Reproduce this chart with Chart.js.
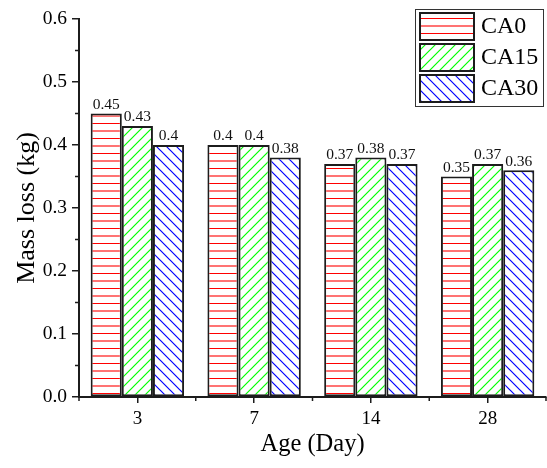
<!DOCTYPE html>
<html>
<head>
<meta charset="utf-8">
<script src="https://cdn.jsdelivr.net/npm/chart.js@4"></script>
<style>
  body { margin: 0; background: #fff; }
  #wrap { width: 547px; height: 468px; }
</style>
</head>
<body>
<div id="wrap"><canvas id="lossChart" width="547" height="468"></canvas></div>
<script>
const ages = ["3", "7", "14", "28"];
const ca0 = [0.45, 0.4, 0.37, 0.35];
const ca15 = [0.43, 0.4, 0.38, 0.37];
const ca30 = [0.4, 0.38, 0.37, 0.36];
const seriesNames = ["CA0", "CA15", "CA30"];
const yTicks = [0, 0.1, 0.2, 0.3, 0.4, 0.5, 0.6];

const serif = "'Liberation Serif', 'Times New Roman', serif";
const edge = "#1c1c1c";

function hatch(kind, color) {
    const c = document.createElement("canvas");
    const g = c.getContext("2d");
    if (kind === "h") {
        c.width = 10; c.height = 15;
        g.fillStyle = "#fff";
        g.fillRect(0, 0, 10, 15);
        g.fillStyle = color;
        g.fillRect(0, 3, 10, 1);
        g.globalAlpha = 0.55;
        g.fillRect(0, 10, 10, 2);
    } else {
        c.width = 10; c.height = 10;
        g.fillStyle = "#fff";
        g.fillRect(0, 0, 10, 10);
        g.strokeStyle = color;
        g.lineWidth = 1.2;
        g.beginPath();
        if (kind === "f") {
            g.moveTo(-5, 5); g.lineTo(5, -5);
            g.moveTo(0, 10); g.lineTo(10, 0);
            g.moveTo(5, 15); g.lineTo(15, 5);
        } else {
            g.moveTo(-5, 5); g.lineTo(5, 15);
            g.moveTo(0, 0); g.lineTo(10, 10);
            g.moveTo(5, -5); g.lineTo(15, 5);
        }
        g.stroke();
    }
    return document.getElementById("lossChart").getContext("2d").createPattern(c, "repeat");
}

const fills = [hatch("h", "rgb(255,0,0)"), hatch("f", "rgb(0,255,0)"), hatch("b", "rgb(0,0,255)")];

// value labels above each bar
const barLabels = {
    id: "barLabels",
    afterDatasetsDraw(chart) {
        const ctx = chart.ctx;
        ctx.save();
        ctx.font = "15.5px " + serif;
        ctx.fillStyle = "#111";
        ctx.textAlign = "center";
        ctx.textBaseline = "bottom";
        chart.data.datasets.forEach((ds, i) => {
            chart.getDatasetMeta(i).data.forEach((bar, j) => {
                ctx.fillText(String(ds.data[j]), bar.x, bar.y - 1);
            });
        });
        ctx.restore();
    }
};

// minor ticks (Origin style)
const minorTicks = {
    id: "minorTicks",
    afterDraw(chart) {
        const ctx = chart.ctx;
        const y = chart.scales.y;
        const a = chart.chartArea;
        ctx.save();
        ctx.strokeStyle = edge;
        ctx.lineWidth = 1.5;
        ctx.beginPath();
        for (let i = 0; i < yTicks.length - 1; i++) {
            const py = y.getPixelForValue((yTicks[i] + yTicks[i + 1]) / 2);
            ctx.moveTo(a.left, py); ctx.lineTo(a.left - 4, py);
        }
        const step = (a.right - a.left) / ages.length;
        for (let i = 0; i <= ages.length; i++) {
            const px = a.left + step * i;
            ctx.moveTo(px, a.bottom); ctx.lineTo(px, a.bottom + 4);
        }
        ctx.stroke();
        ctx.restore();
    }
};

const boxLegend = {
    id: "boxLegend",
    afterDraw(chart) {
        const ctx = chart.ctx;
        ctx.save();
        ctx.fillStyle = "#fff";
        ctx.fillRect(415, 9, 128, 97);
        ctx.strokeStyle = "#333";
        ctx.lineWidth = 1;
        ctx.strokeRect(415.5, 9.5, 128, 97);
        ctx.font = "24px " + serif;
        ctx.textBaseline = "middle";
        ctx.textAlign = "left";
        seriesNames.forEach((name, i) => {
            const top = 13 + i * 31;
            ctx.fillStyle = fills[i];
            ctx.fillRect(420, top, 54, 27);
            ctx.strokeStyle = edge;
            ctx.lineWidth = 2;
            ctx.strokeRect(420, top, 54, 27);
            ctx.fillStyle = "#000";
            ctx.fillText(name, 481, top + 14);
        });
        ctx.restore();
    }
};

const values = [ca0, ca15, ca30];

new Chart(document.getElementById("lossChart"), {
    type: "bar",
    data: {
        labels: ages,
        datasets: seriesNames.map((name, i) => ({
            label: name,
            data: values[i],
            backgroundColor: fills[i],
            borderColor: edge,
            borderWidth: 2,
            borderSkipped: false,
            categoryPercentage: 0.8,
            barPercentage: 1.0
        }))
    },
    options: {
        responsive: false,
        animation: false,
        layout: { padding: { top: 19, right: 1, left: 0, bottom: 0 } },
        plugins: {
            legend: { display: false },
            tooltip: { enabled: false }
        },
        scales: {
            x: {
                afterFit(scale) { scale.height = 71; },
                grid: { display: true, drawOnChartArea: false, offset: false, tickLength: 6, color: edge, lineWidth: 1.5 },
                border: { display: true, color: edge, width: 2 },
                ticks: { color: "#000", padding: 5, font: { family: serif, size: 19 } },
                title: {
                    display: true, text: "Age (Day)", color: "#000",
                    font: { family: serif, size: 24.5, lineHeight: 1.2 },
                    padding: { top: 0, bottom: 9 }
                }
            },
            y: {
                min: 0, max: 0.6,
                afterFit(scale) { scale.width = 79; },
                afterBuildTicks(scale) { scale.ticks = yTicks.map(v => ({ value: v })); },
                grid: { display: true, drawOnChartArea: false, tickLength: 7, color: edge, lineWidth: 1.5 },
                border: { display: true, color: edge, width: 2 },
                ticks: {
                    color: "#000", padding: 5,
                    font: { family: serif, size: 19.5 },
                    callback: v => v.toFixed(1)
                },
                title: {
                    display: true, text: "Mass loss (kg)", color: "#000",
                    font: { family: serif, size: 26, lineHeight: 1.2 },
                    padding: { top: 12, bottom: 0 }
                }
            }
        }
    },
    plugins: [barLabels, minorTicks, boxLegend]
});
</script>
</body>
</html>
